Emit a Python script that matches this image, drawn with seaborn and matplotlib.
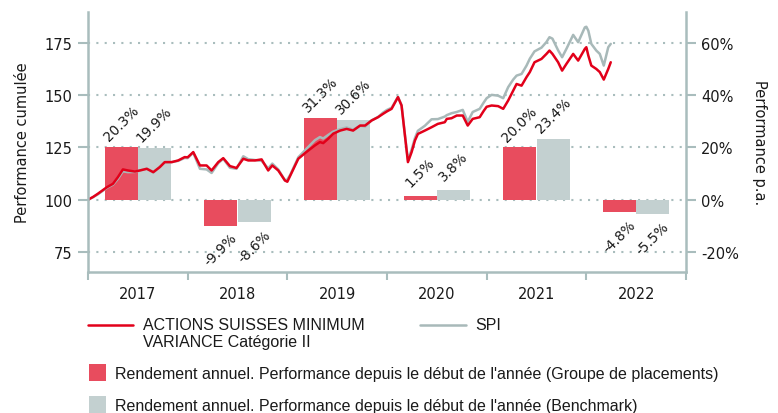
import numpy as np
import pandas as pd
import matplotlib
matplotlib.use("Agg")
import matplotlib.pyplot as plt
import seaborn as sns
from matplotlib.lines import Line2D
from matplotlib.patches import Rectangle
from matplotlib.ticker import FuncFormatter

# Calendar-year returns (%)
years = [2017, 2018, 2019, 2020, 2021, 2022]
fund_ytd = [20.3, -9.9, 31.3, 1.5, 20.0, -4.8]
spi_ytd = [19.9, -8.6, 30.6, 3.8, 23.4, -5.5]

# Cumulative performance (start of 2017 = 100), time in years since 1 Jan 2017
t_years = [0.00, 0.05, 0.10, 0.19, 0.25, 0.30, 0.35, 0.40, 0.47, 0.52, 0.59, 0.655, 0.72, 0.77, 0.84, 0.905, 0.97, 1.00,
           1.056, 1.123, 1.19, 1.24, 1.307, 1.357, 1.424, 1.49, 1.558, 1.608, 1.675, 1.742, 1.808, 1.849, 1.909, 1.976, 2.00,
           2.03, 2.11, 2.19, 2.277, 2.327, 2.36, 2.41, 2.46, 2.53, 2.595, 2.66, 2.73, 2.78, 2.845, 2.91, 2.96, 3.00,
           3.046, 3.11, 3.146, 3.18, 3.21, 3.247, 3.28, 3.31, 3.38, 3.447, 3.51, 3.58, 3.60, 3.647, 3.70, 3.76, 3.81, 3.86, 3.93, 3.97, 4.00,
           4.05, 4.115, 4.166, 4.216, 4.266, 4.30, 4.35, 4.40, 4.433, 4.48, 4.55, 4.60, 4.63, 4.66, 4.717, 4.757, 4.80, 4.868, 4.918, 4.985, 5.00,
           5.02, 5.05, 5.10, 5.135, 5.175, 5.22, 5.245]
fund_cum = [100.0, 101.3, 102.9, 106.0, 107.6, 110.8, 114.5, 114.0, 113.5, 114.0, 114.8, 113.2, 115.6, 118.0, 118.0, 118.8, 120.4, 120.3,
            122.8, 116.4, 116.4, 114.0, 118.0, 119.9, 116.1, 115.2, 119.6, 118.8, 118.8, 119.3, 114.0, 116.4, 114.0, 109.2, 108.6,
            111.6, 119.6, 122.8, 126.0, 127.6, 127.1, 129.2, 131.6, 133.1, 133.9, 133.1, 135.5, 135.5, 137.9, 139.5, 141.1, 142.3,
            143.5, 149.1, 145.1, 130.7, 118.0, 122.8, 128.3, 131.5, 133.1, 134.7, 136.3, 137.1, 138.7, 139.0, 140.3, 140.3, 135.5, 138.7, 139.5, 142.5, 144.5,
            145.1, 144.8, 143.5, 147.5, 152.2, 155.4, 154.6, 158.7, 161.1, 165.8, 167.4, 169.8, 171.4, 169.8, 165.8, 161.8, 165.0, 169.8, 166.6, 172.2, 173.0,
            169.0, 164.2, 162.6, 161.1, 157.5, 162.6, 165.8]
spi_cum = [100.0, 101.2, 102.6, 105.7, 107.2, 110.0, 113.6, 113.2, 113.3, 114.0, 114.9, 113.0, 115.8, 117.9, 118.0, 118.6, 120.0, 119.9,
           122.5, 114.8, 114.5, 112.8, 117.5, 119.6, 115.3, 114.8, 120.8, 119.4, 119.0, 118.6, 115.0, 117.3, 114.5, 109.3, 109.6,
           112.0, 120.3, 124.3, 128.5, 130.0, 129.3, 131.0, 132.6, 133.8, 134.6, 133.5, 135.4, 135.0, 138.0, 139.6, 141.7, 143.0,
           144.0, 149.2, 145.3, 131.0, 119.0, 124.0, 129.5, 133.0, 135.4, 138.5, 138.6, 139.8, 140.5, 141.4, 142.0, 143.0, 137.3, 142.0, 143.5, 146.5, 148.6,
           150.2, 149.8, 148.6, 153.9, 157.5, 159.4, 160.2, 164.2, 167.5, 171.0, 172.8, 175.5, 177.8, 177.1, 171.5, 168.2, 172.2, 178.9, 175.4, 182.5, 182.8,
           180.9, 174.6, 171.4, 169.8, 164.2, 173.0, 174.6]

fund_name_lines = ["ACTIONS SUISSES MINIMUM", "VARIANCE Catégorie II"]
bench_name = "SPI"
bar_fund_label = "Rendement annuel. Performance depuis le début de l'année (Groupe de placements)"
bar_bench_label = "Rendement annuel. Performance depuis le début de l'année (Benchmark)"

RED_LINE = "#e2001a"
RED_BAR = "#e84c5e"
GREY_BAR = "#c3d0d0"
GREY_LINE = "#a8b9b9"
AXIS = "#a9bdbd"
TEXT = "#1a1a1a"

sns.set_theme(style="white")
plt.rcParams["font.family"] = ["DejaVu Sans"]

W, H = 778, 414
fig = plt.figure(figsize=(W / 100, H / 100), dpi=100)


def fx(px):
    return px / W


def fy(py):
    return 1 - py / H


ax = fig.add_axes([fx(88), fy(273), (686 - 88) / W, (273 - 12.7) / H])
ax2 = ax.twinx()

# Annual bars on the percentage axis
bars = pd.DataFrame({
    "year": years * 2,
    "ytd": fund_ytd + spi_ytd,
    "series": ["fund"] * len(years) + ["bench"] * len(years),
})
sns.barplot(data=bars, x="year", y="ytd", hue="series", hue_order=["fund", "bench"],
            palette={"fund": RED_BAR, "bench": GREY_BAR}, native_scale=True,
            width=2 / 3, saturation=1, errorbar=None, legend=False,
            linewidth=0, ax=ax2)

# Cumulative lines on the index axis, drawn over the bars
ax.set_zorder(ax2.get_zorder() + 1)
ax.patch.set_visible(False)
x_line = np.array(t_years) + 2016.5
sns.lineplot(x=x_line, y=spi_cum, ax=ax, color=GREY_LINE, lw=1.8)
sns.lineplot(x=x_line, y=fund_cum, ax=ax, color=RED_LINE, lw=1.8)

lo, hi = 65.4, 190.0
ax.set_ylim(lo, hi)
ax2.set_ylim((lo - 100) * 0.8, (hi - 100) * 0.8)
ax.set_xlim(2016.5, 2022.5)

# Value labels on the bars
for i, yr in enumerate(years):
    for v, dx in ((fund_ytd[i], -1 / 6), (spi_ytd[i], 1 / 6)):
        off = 17 if v >= 0 else -17
        ax2.annotate(f"{v:.1f}%", xy=(yr + dx, v), xytext=(0, off),
                     textcoords="offset points", rotation=45,
                     rotation_mode="anchor", ha="center", va="center",
                     fontsize=9.8, color=TEXT)

# Grid (dotted) sits behind the bars
ax2.set_yticks([-20, 0, 20, 40, 60])
ax2.yaxis.set_major_formatter(FuncFormatter(lambda v, p: f"{v:.0f}%"))
ax2.set_axisbelow(True)
ax2.yaxis.grid(True, linestyle=(0, (1, 3)), color=AXIS, linewidth=1.5)
ax2.xaxis.grid(False)
ax.grid(False)

ax.set_yticks([75, 100, 125, 150, 175])
ax.set_xticks(years)
ax.set_xticklabels([str(y) for y in years])
ax.set_xticks(np.arange(2016.5, 2023.0, 1.0), minor=True)
ax.tick_params(axis="x", which="major", length=0, pad=10, labelsize=10.5, labelcolor=TEXT)
ax.tick_params(axis="x", which="minor", bottom=True, length=6, width=1.5, color=AXIS)
ax.tick_params(axis="y", left=True, length=7, width=1.5, color=AXIS, labelsize=10.5, pad=4, labelcolor=TEXT)
ax2.tick_params(axis="y", right=True, length=7, width=1.5, color=AXIS, labelsize=10.5, pad=4, labelcolor=TEXT)

ax.spines["top"].set_visible(False)
for s in ("left", "right", "bottom"):
    ax.spines[s].set_visible(True)
    ax.spines[s].set_color(AXIS)
    ax.spines[s].set_linewidth(1.8)
for s in ax2.spines.values():
    s.set_visible(False)

ax.set_xlabel("")
ax.set_ylabel("")
ax2.set_xlabel("")
ax2.set_ylabel("")
fig.text(fx(23), fy(143), "Performance cumulée", rotation=90, ha="center", va="center",
         fontsize=10.5, color=TEXT)
fig.text(fx(760), fy(143), "Performance p.a.", rotation=270, ha="center", va="center",
         fontsize=10.5, color=TEXT)

# Legend
leg_font = dict(fontsize=11.5, family=["Liberation Sans", "DejaVu Sans"], color=TEXT)
fig.add_artist(Line2D([fx(88), fx(133)], [fy(326)] * 2, transform=fig.transFigure,
                      color=RED_LINE, lw=1.8))
fig.text(fx(143), fy(330), fund_name_lines[0], va="baseline", ha="left", **leg_font)
fig.text(fx(143), fy(347), fund_name_lines[1], va="baseline", ha="left", **leg_font)
fig.add_artist(Line2D([fx(420), fx(466)], [fy(326)] * 2, transform=fig.transFigure,
                      color=GREY_LINE, lw=1.8))
fig.text(fx(475), fy(330), bench_name, va="baseline", ha="left", **leg_font)

fig.add_artist(Rectangle((fx(89), fy(382)), 17 / W, 17 / H, transform=fig.transFigure,
                         facecolor=RED_BAR, edgecolor="none"))
fig.text(fx(115), fy(379), bar_fund_label, va="baseline", ha="left", **leg_font)
fig.add_artist(Rectangle((fx(89), fy(414)), 17 / W, 17 / H, transform=fig.transFigure,
                         facecolor=GREY_BAR, edgecolor="none"))
fig.text(fx(115), fy(411), bar_bench_label, va="baseline", ha="left", **leg_font)

fig.savefig("out.png", dpi=100)
